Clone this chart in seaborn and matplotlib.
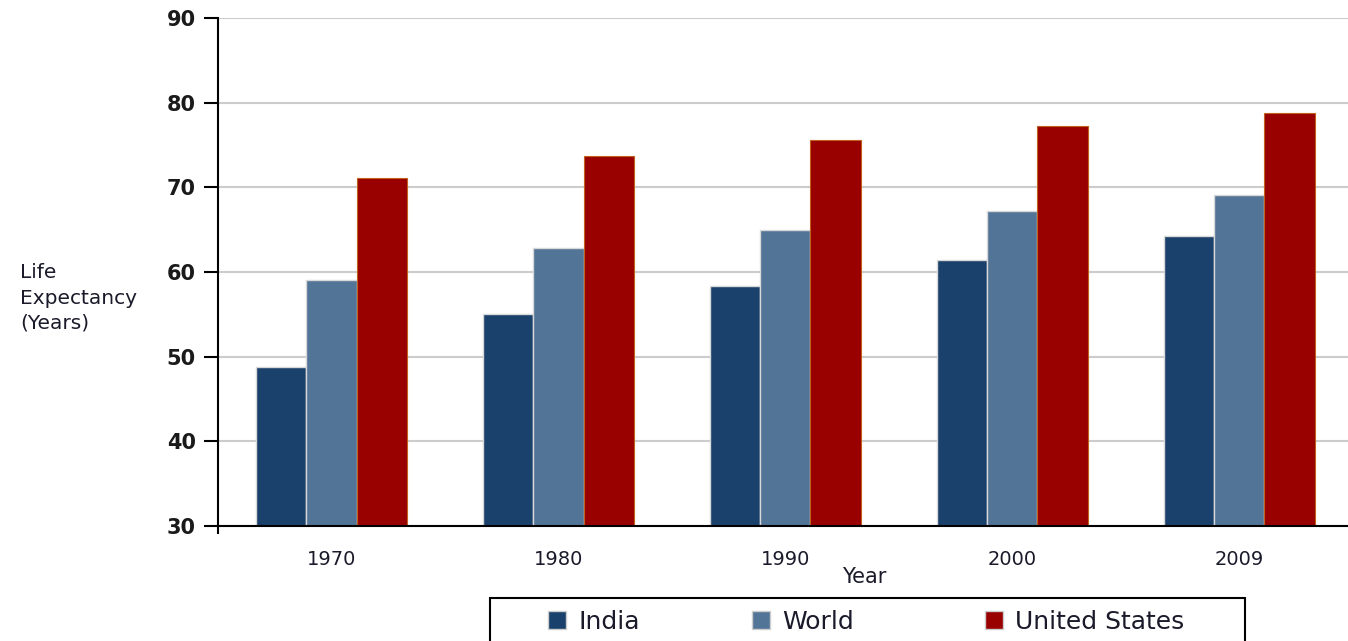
import matplotlib
matplotlib.use("Agg")
import matplotlib.pyplot as plt
import seaborn as sns
import pandas as pd
from matplotlib.patches import Patch, Rectangle

years = ["1970", "1980", "1990", "2000", "2009"]
series = ["India", "World", "United States"]
india = [48.8, 55.0, 58.3, 61.4, 64.2]
world = [59.1, 62.8, 65.0, 67.2, 69.1]
usa = [71.1, 73.7, 75.6, 77.2, 78.8]
colors = ["#1A416B", "#527497", "#990000"]

rows = []
for name, vals in zip(series, [india, world, usa]):
    for y, v in zip(years, vals):
        rows.append({"Year": y, "Series": name, "Value": v})
df = pd.DataFrame(rows)

sns.set_style("white")
plt.rcParams["font.family"] = ["DejaVu Sans"]

fig = plt.figure(figsize=(13.48, 6.41), dpi=100)
ax = fig.add_axes([218 / 1348, 1 - 526 / 641, 1 - 218 / 1348, (526 - 18) / 641])

sns.barplot(data=df, x="Year", y="Value", hue="Series", order=years,
            hue_order=series, palette=colors, width=0.665, ax=ax,
            linewidth=1, edgecolor="#d8d8d8", legend=False, saturation=1)
for patch in ax.patches:
    if patch.get_facecolor()[0] > 0.5:
        patch.set_edgecolor("#c0601a")
        patch.set_linewidth(0.8)

ax.set_ylim(30, 90)
ax.set_xlim(-0.5, 4.48)
ax.set_yticks([30, 40, 50, 60, 70, 80, 90])
ax.yaxis.grid(True, color="#cccccc", linewidth=1.5)
ax.set_axisbelow(True)
for s in ["top", "right"]:
    ax.spines[s].set_visible(False)
ax.spines["left"].set_color("black")
ax.spines["bottom"].set_color("black")
ax.spines["left"].set_linewidth(1.5)
ax.spines["bottom"].set_linewidth(1.5)
ax.tick_params(axis="y", length=10, width=1.5, color="black", labelsize=15,
               pad=6, labelcolor="#1a1a1a", left=True)
ax.tick_params(axis="x", which="major", length=0, labelsize=14, pad=17,
               labelcolor="#1a1a2a")
ax.set_xticks([-0.5], minor=True)
ax.tick_params(axis="x", which="minor", length=6, width=1.5, color="black",
               bottom=True)
for lbl in ax.get_yticklabels():
    lbl.set_fontweight("bold")
ax.set_xlabel("")
ax.set_ylabel("")

fig.text(20 / 1348, 1 - 298 / 641, "Life\nExpectancy\n(Years)", fontsize=14.5,
         ha="left", va="center", color="#1a1a2a", linespacing=1.4)
fig.text(864 / 1348, 1 - 577 / 641, "Year", fontsize=15, ha="center",
         va="center", color="#1a1a2a")

legend_x = [548, 752, 985]
for name, c, lx in zip(series, colors, legend_x):
    leg = fig.legend([Patch(facecolor=c, edgecolor="#cccccc")], [name],
                     loc="center left", bbox_to_anchor=(lx / 1348, 1 - 622 / 641),
                     frameon=False, borderpad=0, borderaxespad=0,
                     handlelength=0.72, handleheight=0.72, handletextpad=0.5,
                     prop={"size": 18})
    for t in leg.get_texts():
        t.set_color("#1a1a2a")

fig.add_artist(Rectangle((490 / 1348, -0.1), 755 / 1348, (1 - 598 / 641) + 0.1,
                         transform=fig.transFigure, fill=False,
                         edgecolor="black", linewidth=1.5))

fig.savefig("out.png", dpi=100)
